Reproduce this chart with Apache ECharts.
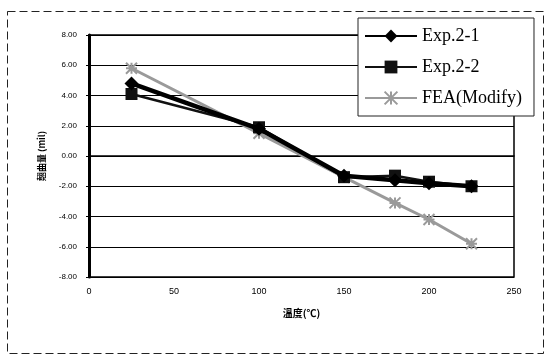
<!DOCTYPE html>
<html><head><meta charset="utf-8">
<script src="https://cdn.jsdelivr.net/npm/echarts@6/dist/echarts.min.js"></script>
<style>html,body{margin:0;padding:0;background:#fff}#c{width:545px;height:354px}</style>
</head><body><div id="c"></div>
<script>
const temps = [25, 100, 150, 180, 200, 225];
const exp21 = [4.8, 1.8, -1.3, -1.6, -1.8, -2.0];
const exp22 = [4.1, 1.9, -1.4, -1.3, -1.7, -2.0];
const fea = [5.8, 1.5, -1.4, -3.1, -4.2, -5.8];
const names = ['Exp.2-1', 'Exp.2-2', 'FEA(Modify)'];
const pair = (ys) => temps.map((t, i) => [t, ys[i]]);

const chart = echarts.init(document.getElementById('c'));
chart.setOption({
  backgroundColor: '#fff',
  animation: false,
  graphic: [{
    type: 'rect', left: 5, top: 9, shape: {width: 536, height: 342},
    style: {fill: 'none', stroke: '#222', lineWidth: 1, lineDash: [8, 4]}, z: 0
  }],
  grid: {left: 89, right: 31, top: 35, bottom: 77, show: true, borderColor: '#000', borderWidth: 1.5},
  legend: {
    data: names, orient: 'vertical', left: 358, top: 18, width: 190,
    padding: [9, 12, 9, 6], itemGap: 13, itemWidth: 52, itemHeight: 16,
    backgroundColor: '#fff', borderColor: '#222', borderWidth: 1,
    textStyle: {fontFamily: 'Liberation Serif', fontSize: 18, color: '#000'}
  },
  xAxis: {
    type: 'value', min: 0, max: 250, interval: 50,
    name: '溫度(℃)', nameLocation: 'middle', nameGap: 31,
    nameTextStyle: {fontFamily: 'Noto Sans CJK TC', fontSize: 10, fontWeight: 'bold', color: '#000'},
    axisLine: {show: true, lineStyle: {color: '#000', width: 1.5}},
    axisTick: {show: false},
    splitLine: {show: false},
    axisLabel: {fontFamily: 'Liberation Sans', fontSize: 9, color: '#000', margin: 10}
  },
  yAxis: {
    type: 'value', min: -8, max: 8, interval: 2,
    name: '翹曲量 (mil)', nameLocation: 'middle', nameGap: 43, nameRotate: 90,
    nameTextStyle: {fontFamily: 'Noto Sans CJK TC', fontSize: 9, fontWeight: 'bold', color: '#000'},
    axisLine: {show: true, lineStyle: {color: '#000', width: 3}},
    axisTick: {show: true, length: 3, lineStyle: {color: '#000'}},
    splitLine: {show: true, lineStyle: {color: '#000', width: 1}},
    axisLabel: {fontFamily: 'Liberation Sans', fontSize: 8, color: '#000', margin: 12,
      formatter: v => v.toFixed(2)}
  },
  series: [
    {name: names[2], type: 'line', data: pair(fea), symbol: 'path://M0,0L10,10M10,0L0,10M5,0L5,10M0,5L10,5', symbolSize: 11,
     lineStyle: {color: '#9a9a9a', width: 3}, itemStyle: {color: '#9a9a9a', borderColor: '#9a9a9a', borderWidth: 2}, z: 2},
    {name: names[1], type: 'line', data: pair(exp22), symbol: 'rect', symbolSize: 12,
     lineStyle: {color: '#111', width: 2.5}, itemStyle: {color: '#111'}, z: 3},
    {name: names[0], type: 'line', data: pair(exp21), symbol: 'diamond', symbolSize: 14,
     lineStyle: {color: '#000', width: 4.5}, itemStyle: {color: '#000'}, z: 4}
  ]
});
</script></body></html>
